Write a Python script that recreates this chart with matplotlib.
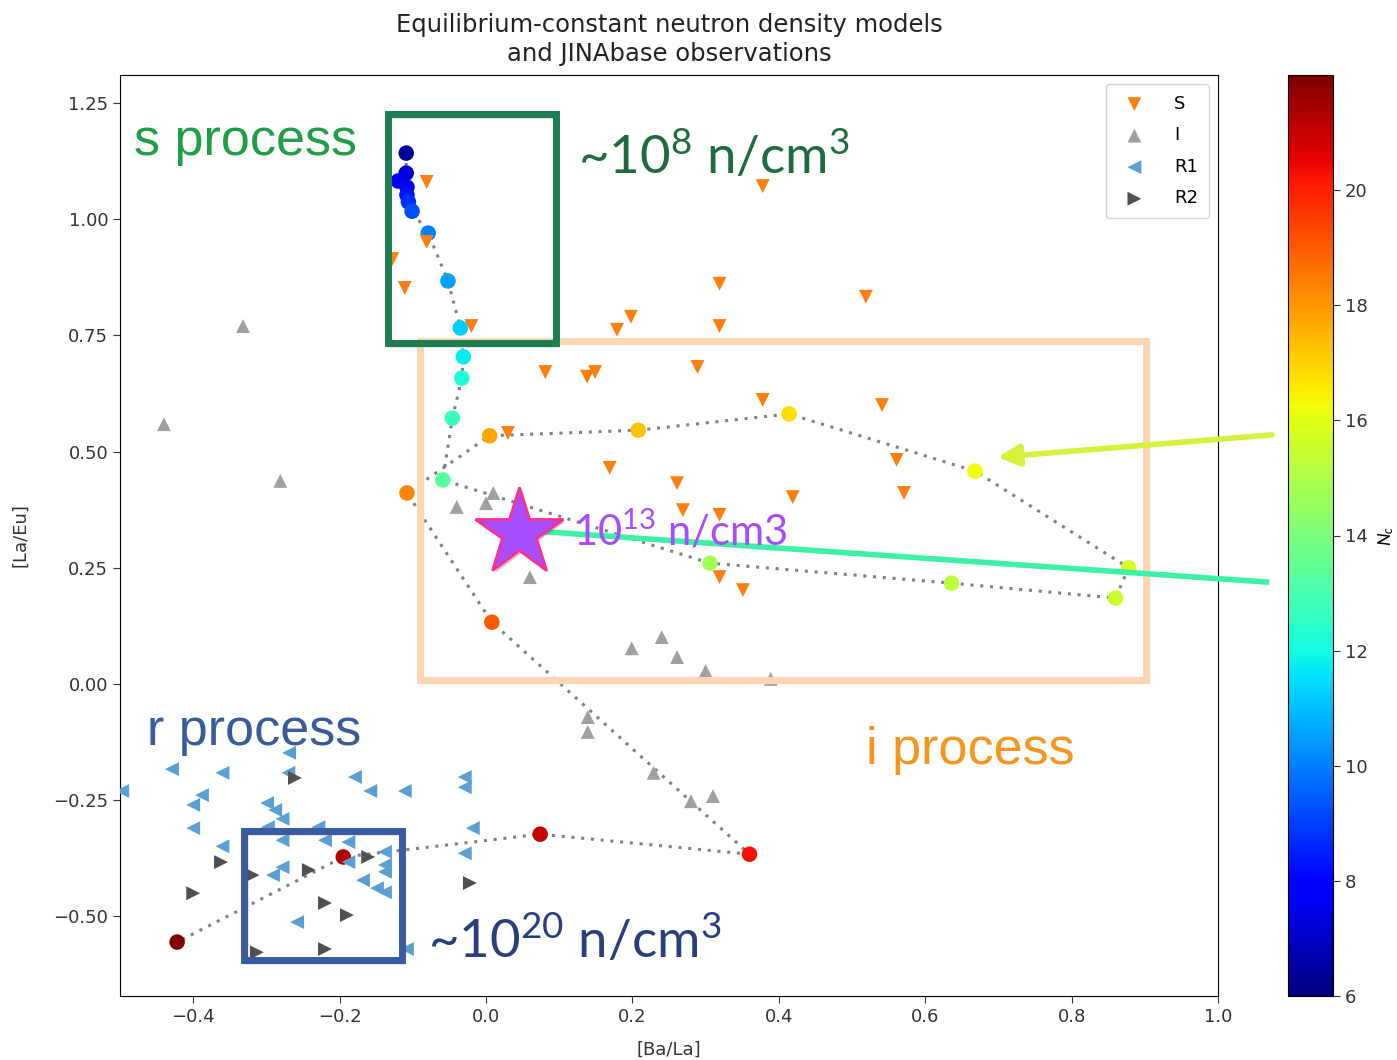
import matplotlib
matplotlib.use("Agg")
import matplotlib.pyplot as plt
from matplotlib.patches import Rectangle
import matplotlib.patheffects as pe

# ---- equilibrium-constant model track, coloured by N_c ----
track_x = [-0.109, -0.109, -0.120, -0.108, -0.108, -0.106, -0.101, -0.079, -0.052,
           -0.035, -0.031, -0.033, -0.046, -0.059, 0.306, 0.636, 0.860, 0.878,
           0.668, 0.414, 0.208, 0.005, -0.108, 0.008, 0.360, 0.074, -0.195, -0.422]
track_y = [1.142, 1.099, 1.082, 1.069, 1.052, 1.037, 1.017, 0.970, 0.867,
           0.766, 0.704, 0.658, 0.572, 0.439, 0.260, 0.217, 0.185, 0.250,
           0.458, 0.581, 0.546, 0.534, 0.411, 0.133, -0.366, -0.323, -0.372, -0.555]
track_nc = [6.4, 7.2, 7.5, 8.0, 8.3, 8.7, 9.2, 10.0, 10.5,
            11.2, 11.7, 12.2, 12.7, 13.3, 14.8, 15.2, 15.5, 15.8,
            16.2, 16.8, 17.2, 17.7, 18.3, 19.0, 20.3, 21.0, 21.3, 21.9]

# ---- JINAbase observations ----
s_x = [-0.081, -0.081, -0.128, -0.111, -0.020, 0.378, 0.319, 0.519, 0.198, 0.319,
       0.179, 0.081, 0.138, 0.149, 0.289, 0.378, 0.541, 0.030, 0.561, 0.169,
       0.261, 0.419, 0.571, 0.269, 0.319, 0.319, 0.351]
s_y = [1.080, 0.951, 0.914, 0.852, 0.770, 1.071, 0.861, 0.833, 0.790, 0.770,
       0.762, 0.671, 0.661, 0.671, 0.682, 0.611, 0.600, 0.540, 0.482, 0.465,
       0.432, 0.402, 0.411, 0.374, 0.364, 0.230, 0.202]

i_x = [-0.332, -0.440, -0.281, -0.040, 0.010, 0.000, 0.060, 0.199, 0.240, 0.261,
       0.300, 0.389, 0.139, 0.139, 0.229, 0.280, 0.310]
i_y = [0.770, 0.559, 0.437, 0.381, 0.411, 0.389, 0.230, 0.077, 0.101, 0.058,
       0.028, 0.011, -0.071, -0.103, -0.191, -0.252, -0.241]

r1_x = [-0.269, -0.429, -0.360, -0.270, -0.179, -0.158, -0.111, -0.029, -0.029,
        -0.497, -0.388, -0.400, -0.299, -0.288, -0.278, -0.400, -0.018, -0.229,
        -0.298, -0.360, -0.278, -0.220, -0.188, -0.138, -0.029, -0.278, -0.291,
        -0.188, -0.138, -0.138, -0.168, -0.149, -0.138, -0.258, -0.108]
r1_y = [-0.148, -0.183, -0.191, -0.191, -0.200, -0.230, -0.230, -0.200, -0.222,
        -0.230, -0.239, -0.260, -0.256, -0.271, -0.290, -0.310, -0.310, -0.308,
        -0.308, -0.349, -0.336, -0.336, -0.340, -0.361, -0.364, -0.394, -0.411,
        -0.383, -0.389, -0.404, -0.422, -0.439, -0.448, -0.512, -0.570]

r2_x = [-0.261, -0.362, -0.319, -0.242, -0.161, -0.400, -0.220, -0.190, -0.022,
        -0.313, -0.220]
r2_y = [-0.202, -0.383, -0.411, -0.400, -0.372, -0.450, -0.471, -0.497, -0.428,
        -0.577, -0.570]

# highlighted i-process point
star_x, star_y = 0.045, 0.325

x_ticks = [-0.4, -0.2, 0.0, 0.2, 0.4, 0.6, 0.8, 1.0]
y_ticks = [-0.50, -0.25, 0.00, 0.25, 0.50, 0.75, 1.00, 1.25]
cbar_ticks = [6, 8, 10, 12, 14, 16, 18, 20]

plt.rcParams["mathtext.fontset"] = "custom"
plt.rcParams["mathtext.rm"] = "Lato"
plt.rcParams["mathtext.it"] = "Lato:italic"
plt.rcParams["mathtext.bf"] = "Lato:bold"

W, H = 1397, 1060
fig = plt.figure(figsize=(W / 100, H / 100), dpi=100)
ax = fig.add_axes([120 / W, 1 - 996 / H, (1218 - 120) / W, (996 - 75) / H])
cax = fig.add_axes([1288 / W, 1 - 996 / H, 45 / W, (996 - 75) / H])

ax.plot(track_x, track_y, linestyle=(0, (1, 2.2)), color="#808080", lw=2.2, zorder=2)
sc = ax.scatter(track_x, track_y, c=track_nc, cmap="jet", vmin=6, vmax=22,
                s=125, edgecolors="none", zorder=3)

ax.scatter(s_x, s_y, marker="v", color="#ff7f0e", s=100, edgecolors="none", label="S", zorder=4)
ax.scatter(i_x, i_y, marker="^", color="#a0a0a0", s=100, edgecolors="none", label="I", zorder=4)
ax.scatter(r1_x, r1_y, marker="<", color="#5a9fd4", s=100, edgecolors="none", label="R1", zorder=4)
ax.scatter(r2_x, r2_y, marker=">", color="#505050", s=100, edgecolors="none", label="R2", zorder=4)

ax.set_xlim(-0.5, 1.0)
ax.set_ylim(-0.671, 1.31)
ax.set_xticks(x_ticks)
ax.set_yticks(y_ticks)
ax.tick_params(labelsize=13, colors="#333333", length=5)
ax.set_xlabel("[Ba/La]", fontsize=13, color="#333333", labelpad=11)
ax.set_ylabel("[La/Eu]", fontsize=13, color="#333333", labelpad=17)
ax.set_title("Equilibrium-constant neutron density models\nand JINAbase observations",
             fontsize=17.5, color="#222222", pad=10, linespacing=1.25)
ax.legend(loc="upper right", fontsize=13, labelspacing=0.75, handletextpad=1.2,
          borderpad=0.6)

cb = fig.colorbar(sc, cax=cax, ticks=cbar_ticks)
cb.ax.tick_params(labelsize=13, colors="#333333", length=5)
cb.set_label("$N_c$", fontsize=13, labelpad=6)


# ---- hand-drawn style boxes ----
def sketch_box(x0, y0, x1, y1, color, lw):
    for dx, dy, w, a in [(0, 0, lw, 1.0), (0.002, -0.004, lw * 0.5, 0.7),
                         (-0.002, 0.004, lw * 0.4, 0.6)]:
        ax.add_patch(Rectangle((x0 + dx, y0 + dy), x1 - x0, y1 - y0, fill=False,
                               edgecolor=color, lw=w, alpha=a, clip_on=False, zorder=6))


sketch_box(-0.090, 0.0086, 0.902, 0.738, "#fbd6b3", 5)
sketch_box(-0.134, 0.734, 0.0956, 1.226, "#1e7d52", 5)
sketch_box(-0.330, -0.594, -0.115, -0.316, "#3b5ba0", 5)

# arrow and line pointing at features
ax.annotate("", xy=(0.699, 0.488), xytext=(1.074, 0.536),
            arrowprops=dict(arrowstyle="-|>", lw=4, color="#d6f03c", mutation_scale=32,
                            shrinkA=0, shrinkB=0),
            annotation_clip=False, zorder=7)
ax.plot([0.067, 1.070], [0.329, 0.219], color="#3ef0a5", lw=4, clip_on=False,
        solid_capstyle="butt", zorder=7)

ax.plot([star_x], [star_y], marker="*", ms=66, mfc="#a64dff", mec="#ff2f8f", mew=2,
        zorder=8, path_effects=[pe.SimplePatchShadow(offset=(2, -2), alpha=0.25),
                                pe.Normal()])


# ---- labels ----
def ftext(px, py, s, **kw):
    fig.text(px / W, 1 - py / H, s, va="baseline", ha="left", **kw)


arial = ["Liberation Sans", "DejaVu Sans"]
lato = ["Lato", "DejaVu Sans"]
ftext(134, 155, "s process", fontsize=37.5, color="#1f9e48", family=arial)
ftext(147, 745, "r process", fontsize=37.5, color="#3a5b9a", family=arial)
ftext(866, 764, "i process", fontsize=37.5, color="#f7951f", family=arial)
ftext(578, 174, r"~$\mathrm{10^{8}}$ n/cm$\mathrm{^{3}}$", fontsize=38, color="#1f6b3d", family=lato)
ftext(428, 958, r"~$\mathrm{10^{20}}$ n/cm$\mathrm{^{3}}$", fontsize=38, color="#283f7c", family=lato)
ftext(573, 546, r"$\mathrm{10^{13}}$ n/cm3", fontsize=30, color="#a64dff", family=lato)

fig.savefig("out.png", dpi=100)
